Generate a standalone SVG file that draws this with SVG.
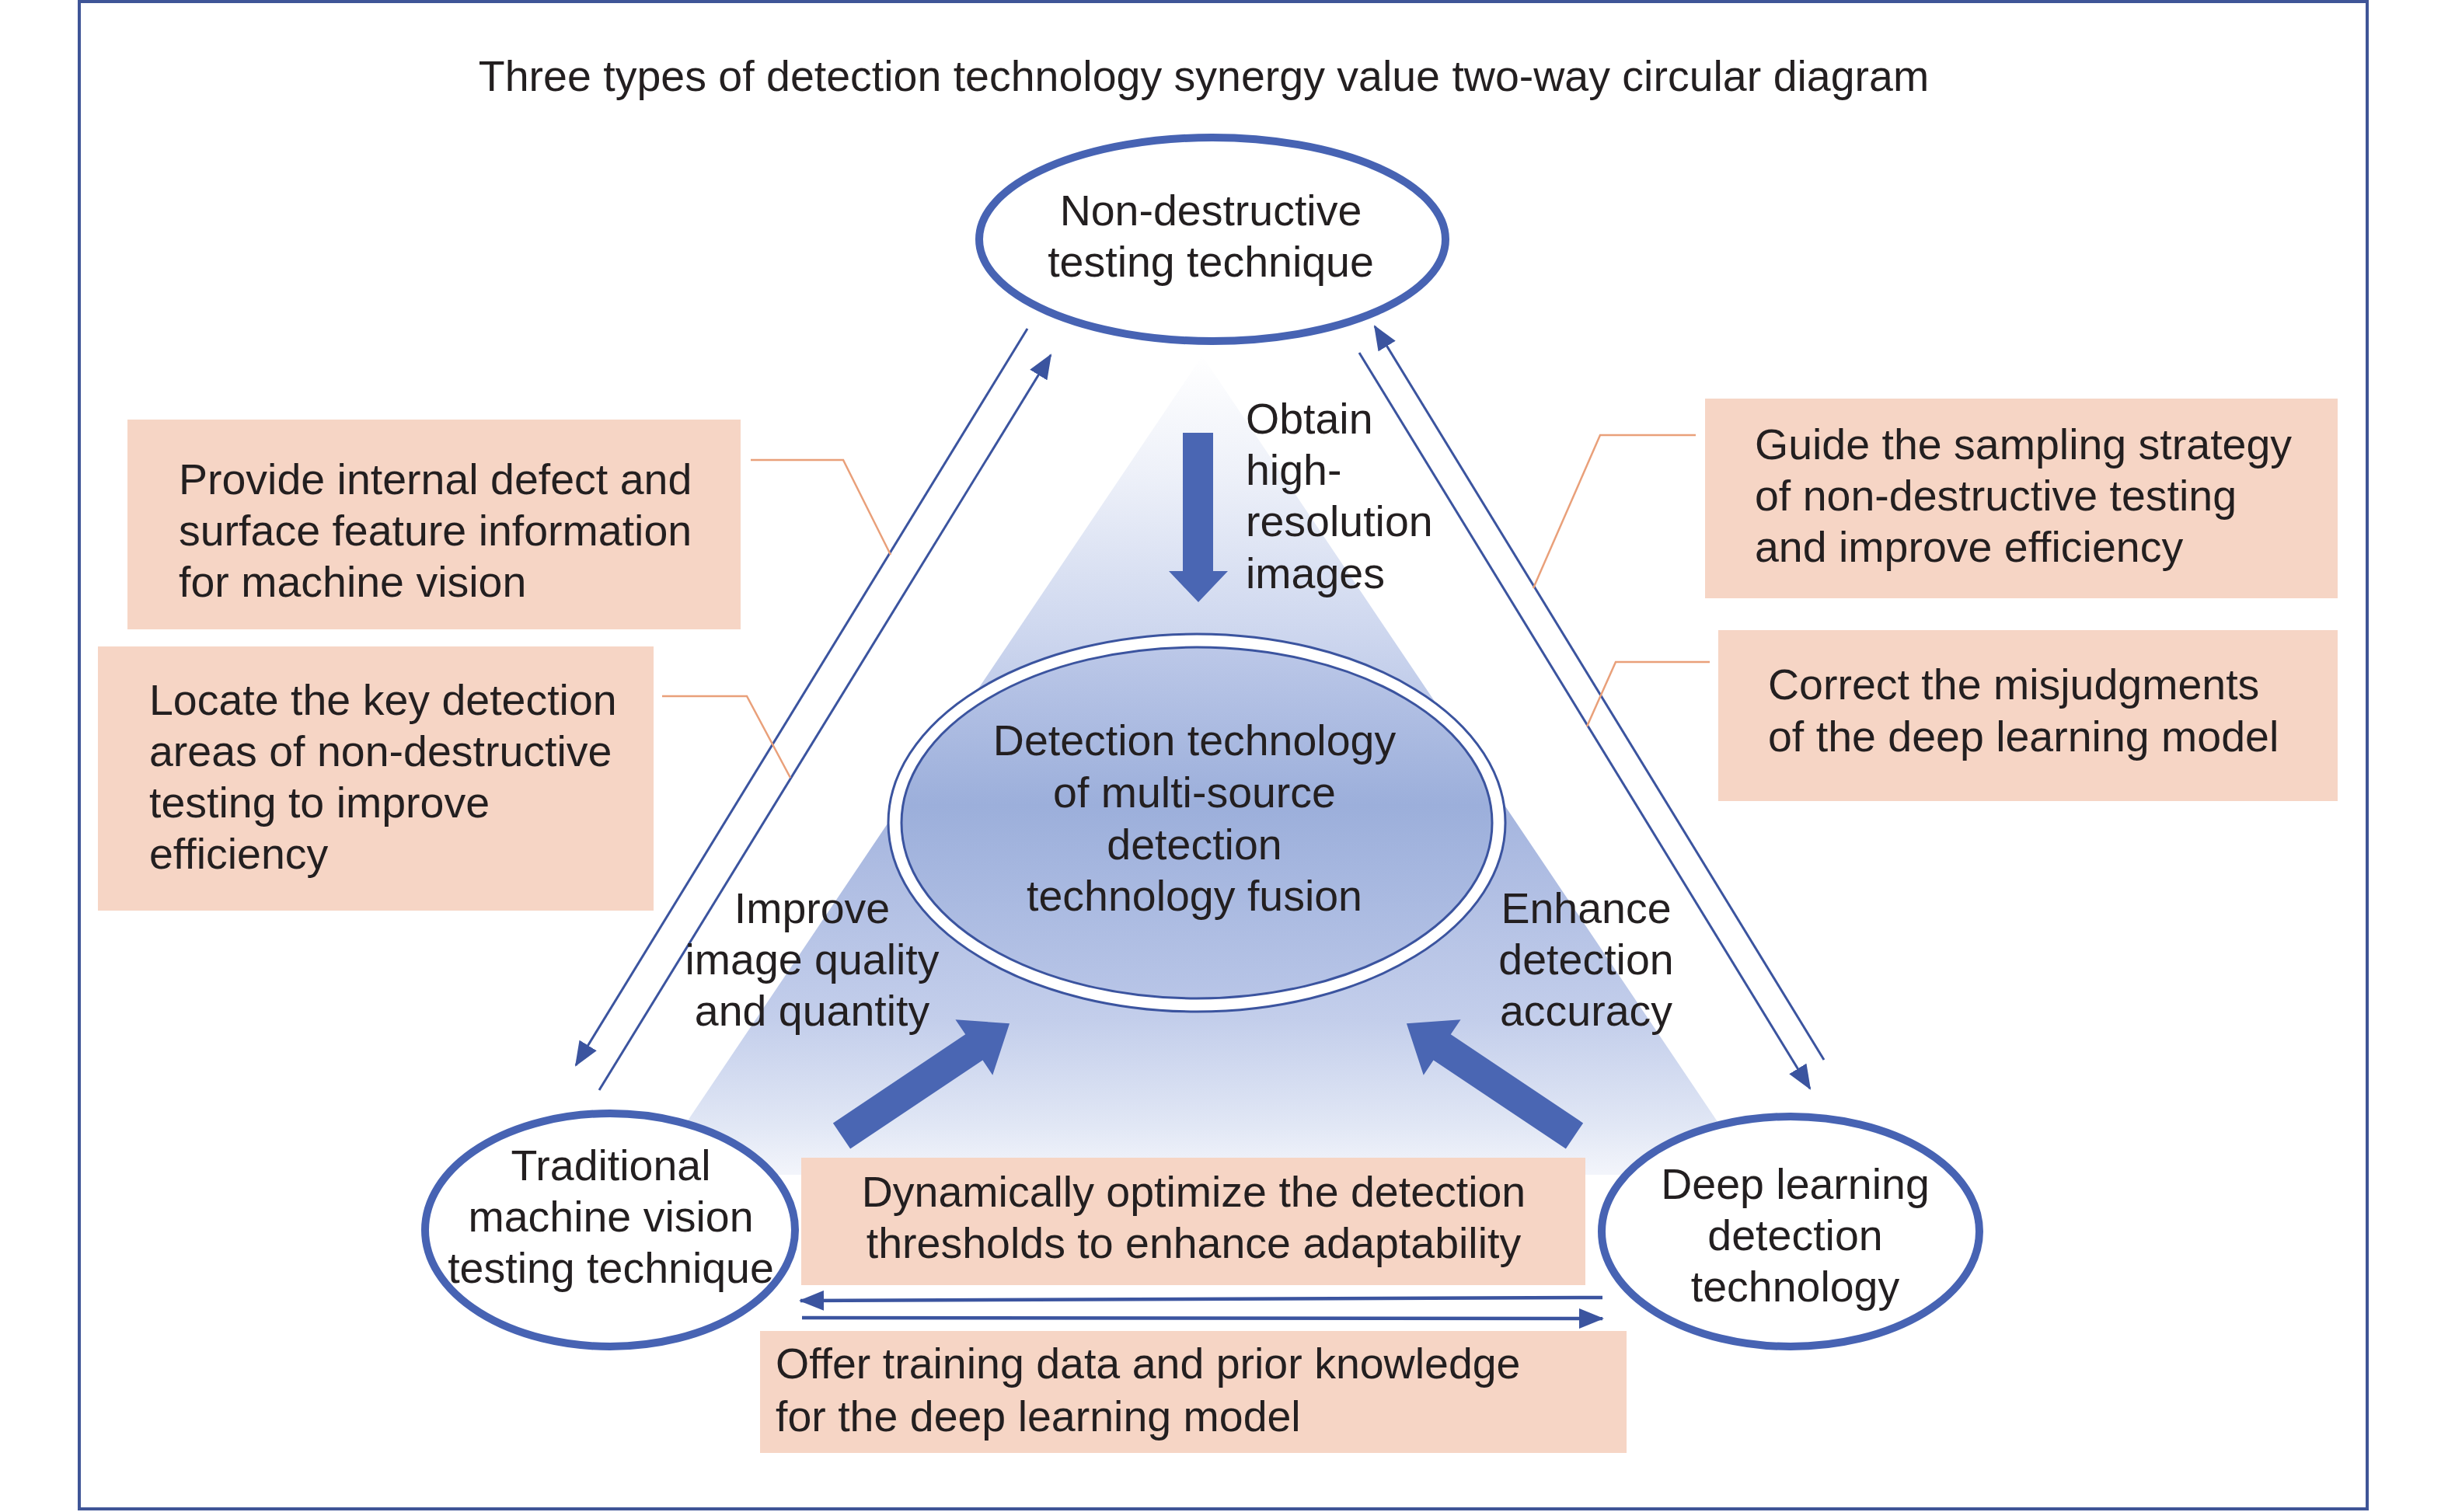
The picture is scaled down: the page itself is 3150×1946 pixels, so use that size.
<svg xmlns="http://www.w3.org/2000/svg" width="3150" height="1946" viewBox="0 0 3150 1946">
<defs>
<style>
text{font-family:"Liberation Sans",Arial,sans-serif;font-size:55.5px;fill:#231f20}
.c{text-anchor:middle}
.box{fill:#f6d5c5}
.node{fill:#ffffff;stroke:#4763b3;stroke-width:10}
.thin{stroke:#3b549f;stroke-width:3;fill:none;marker-end:url(#ah)}
.hz{stroke:#3b549f;stroke-width:4.5;fill:none;marker-end:url(#ah)}
.lead{stroke:#e9a07a;stroke-width:2.5;fill:none}
.blk{fill:#4a66b3}
</style>
<marker id="ah" viewBox="0 0 32 26" refX="30" refY="13" markerWidth="32" markerHeight="26" markerUnits="userSpaceOnUse" orient="auto">
<path d="M0,0 L32,13 L0,26 z" fill="#3b549f"/>
</marker>
<linearGradient id="tri" gradientUnits="userSpaceOnUse" x1="0" y1="458" x2="0" y2="1512">
<stop offset="0" stop-color="#ffffff"/>
<stop offset="0.14" stop-color="#eef1f9"/>
<stop offset="0.33" stop-color="#cfd8ef"/>
<stop offset="0.56" stop-color="#a6b6df"/>
<stop offset="0.81" stop-color="#c3ceeb"/>
<stop offset="0.94" stop-color="#e1e7f5"/>
<stop offset="1" stop-color="#f3f5fb"/>
</linearGradient>
<linearGradient id="ctr" x1="0" y1="0" x2="0" y2="1">
<stop offset="0" stop-color="#bcc8e8"/>
<stop offset="0.45" stop-color="#9cafdb"/>
<stop offset="1" stop-color="#b8c5e7"/>
</linearGradient>
</defs>

<rect x="102" y="2" width="2944" height="1940" fill="#ffffff" stroke="#3f5597" stroke-width="4"/>

<text class="c" x="1549" y="117">Three types of detection technology synergy value two-way circular diagram</text>

<polygon points="1547,458 838,1512 2256,1512" fill="url(#tri)"/>

<g id="connectors">
<line class="thin" x1="1322" y1="423" x2="741" y2="1371"/>
<line class="thin" x1="771" y1="1403" x2="1352" y2="457"/>
<line class="thin" x1="2347" y1="1364" x2="1769" y2="420"/>
<line class="thin" x1="1749" y1="454" x2="2329" y2="1401"/>
<line class="hz" x1="2062" y1="1670" x2="1030" y2="1674"/>
<line class="hz" x1="1032" y1="1696" x2="2062" y2="1697"/>
<polygon class="blk" points="1522,557 1561,557 1561,735 1580,735 1542,775 1504,735 1522,735"/>
<polygon class="blk" transform="translate(1083,1462) rotate(-33.8)" points="0,-20 205,-20 205,-43 260,0 205,43 205,20 0,20"/>
<polygon class="blk" transform="translate(2026,1462) rotate(-146.2)" points="0,-20 205,-20 205,-43 260,0 205,43 205,20 0,20"/>
<polyline class="lead" points="966,592 1085,592 1146,714"/>
<polyline class="lead" points="852,896 961,896 1017,1001"/>
<polyline class="lead" points="2182,560 2059,560 1973,757"/>
<polyline class="lead" points="2200,852 2079,852 2042,935"/>
</g>

<g id="label-obtain">
<text x="1603" y="558">Obtain</text>
<text x="1603" y="624">high-</text>
<text x="1603" y="690">resolution</text>
<text x="1603" y="757">images</text>
</g>
<g id="label-improve">
<text class="c" x="1045" y="1188">Improve</text>
<text class="c" x="1045" y="1254">image quality</text>
<text class="c" x="1045" y="1320">and quantity</text>
</g>
<g id="label-enhance">
<text class="c" x="2041" y="1188">Enhance</text>
<text class="c" x="2041" y="1254">detection</text>
<text class="c" x="2041" y="1320">accuracy</text>
</g>

<g id="box-provide">
<rect class="box" x="164" y="540" width="789" height="270"/>
<text x="230" y="636">Provide internal defect and</text>
<text x="230" y="702">surface feature information</text>
<text x="230" y="768">for machine vision</text>
</g>
<g id="box-locate">
<rect class="box" x="126" y="832" width="715" height="340"/>
<text x="192" y="920">Locate the key detection</text>
<text x="192" y="986">areas of non-destructive</text>
<text x="192" y="1052">testing to improve</text>
<text x="192" y="1118">efficiency</text>
</g>
<g id="box-guide">
<rect class="box" x="2194" y="513" width="814" height="257"/>
<text x="2258" y="591">Guide the sampling strategy</text>
<text x="2258" y="657">of non-destructive testing</text>
<text x="2258" y="723">and improve efficiency</text>
</g>
<g id="box-correct">
<rect class="box" x="2211" y="811" width="797" height="220"/>
<text x="2275" y="900">Correct the misjudgments</text>
<text x="2275" y="967">of the deep learning model</text>
</g>
<g id="box-dynamic">
<rect class="box" x="1031" y="1490" width="1009" height="164"/>
<text class="c" x="1536" y="1553">Dynamically optimize the detection</text>
<text class="c" x="1536" y="1619">thresholds to enhance adaptability</text>
</g>
<g id="box-offer">
<rect class="box" x="978" y="1713" width="1115" height="157"/>
<text x="998" y="1774">Offer training data and prior knowledge</text>
<text x="998" y="1842">for the deep learning model</text>
</g>

<g id="node-fusion">
<ellipse cx="1540" cy="1059" rx="397" ry="243" fill="#ffffff" stroke="#3b549f" stroke-width="3"/>
<ellipse cx="1540" cy="1059" rx="380" ry="226" fill="url(#ctr)" stroke="#3b549f" stroke-width="3"/>
<text class="c" x="1537" y="972">Detection technology</text>
<text class="c" x="1537" y="1039">of multi-source</text>
<text class="c" x="1537" y="1106">detection</text>
<text class="c" x="1537" y="1172">technology fusion</text>
</g>

<g id="node-ndt">
<ellipse class="node" cx="1560" cy="308" rx="300" ry="131"/>
<text class="c" x="1558" y="290">Non-destructive</text>
<text class="c" x="1558" y="356">testing technique</text>
</g>
<g id="node-mv">
<ellipse class="node" cx="785" cy="1583" rx="238" ry="150"/>
<text class="c" x="786" y="1519">Traditional</text>
<text class="c" x="786" y="1585">machine vision</text>
<text class="c" x="786" y="1651">testing technique</text>
</g>
<g id="node-dl">
<ellipse class="node" cx="2304" cy="1585" rx="243" ry="148"/>
<text class="c" x="2310" y="1543">Deep learning</text>
<text class="c" x="2310" y="1609">detection</text>
<text class="c" x="2310" y="1675">technology</text>
</g>
</svg>
